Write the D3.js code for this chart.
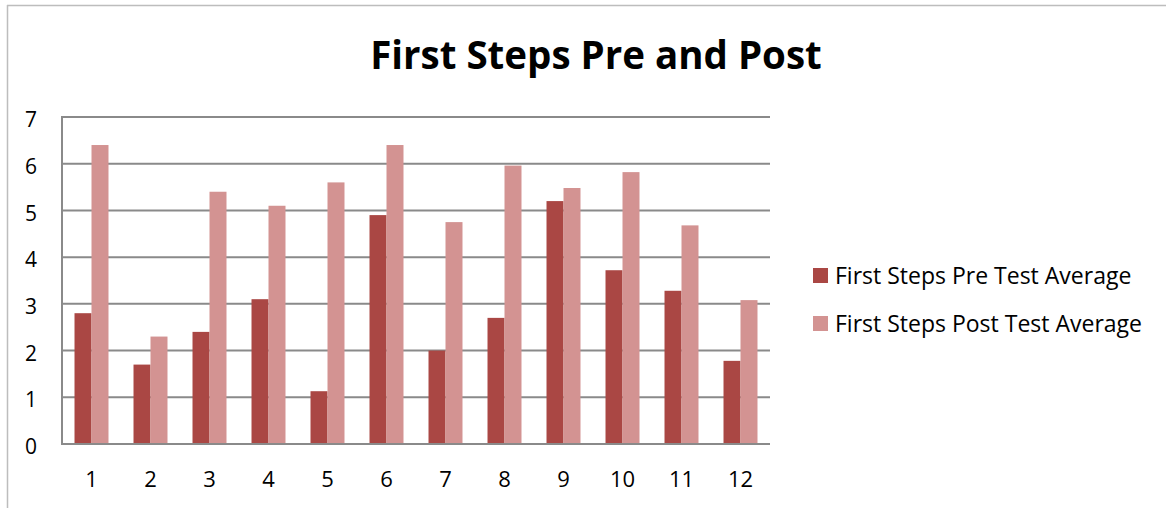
<!DOCTYPE html>
<html>
<head>
<meta charset="utf-8">
<script src="https://cdn.jsdelivr.net/npm/d3@7"></script>
<style>
  html, body { margin: 0; padding: 0; background: #fff; }
  svg { display: block; font-family: "Open Sans", "Noto Sans", sans-serif; }
</style>
</head>
<body>
<svg id="chart" width="1166" height="508"></svg>
<script>
// Survey averages per item, before and after the First Steps programme
const categories = ["1", "2", "3", "4", "5", "6", "7", "8", "9", "10", "11", "12"];
const preTest  = [2.8, 1.7, 2.4, 3.1, 1.13, 4.9, 2.0, 2.7, 5.2, 3.72, 3.28, 1.78];
const postTest = [6.4, 2.3, 5.4, 5.1, 5.6, 6.4, 4.75, 5.96, 5.48, 5.82, 4.68, 3.08];
const seriesNames = ["First Steps Pre Test Average", "First Steps Post Test Average"];
const yTicks = [0, 1, 2, 3, 4, 5, 6, 7];
const chartTitle = "First Steps Pre and Post";

const colors = ["#AA4744", "#D39392"];
const svg = d3.select("#chart");

// outer frame (top and left edges visible)
svg.append("line").attr("x1", 7).attr("x2", 1166).attr("y1", 5.5).attr("y2", 5.5)
  .attr("stroke", "#BDBDBD").attr("stroke-width", 1.5);
svg.append("line").attr("x1", 7.5).attr("x2", 7.5).attr("y1", 5).attr("y2", 508)
  .attr("stroke", "#BDBDBD").attr("stroke-width", 1.5);

const plot = { left: 62, right: 770, top: 117, bottom: 444 };

const x = d3.scaleBand().domain(categories).range([plot.left, plot.right]).paddingInner(0).paddingOuter(0);
const inner = d3.scaleBand().domain([0, 1]).range([x.bandwidth() * 0.212, x.bandwidth() * 0.788]);
const y = d3.scaleLinear().domain([0, 7]).range([plot.bottom, plot.top]);

// horizontal gridlines
svg.append("g").selectAll("line").data(yTicks.filter(t => t > 0)).join("line")
  .attr("x1", plot.left).attr("x2", plot.right)
  .attr("y1", d => y(d)).attr("y2", d => y(d))
  .attr("stroke", "#8A8A8A").attr("stroke-width", 2);

// bars
const groups = svg.append("g").selectAll("g").data(categories).join("g")
  .attr("transform", d => `translate(${x(d)},0)`);
groups.selectAll("rect")
  .data((d, i) => [preTest[i], postTest[i]])
  .join("rect")
  .attr("x", (d, j) => inner(j))
  .attr("width", inner.bandwidth())
  .attr("y", d => y(d))
  .attr("height", d => y(0) - y(d))
  .attr("fill", (d, j) => colors[j]);

// axis lines
svg.append("line").attr("x1", plot.left).attr("x2", plot.right)
  .attr("y1", plot.bottom).attr("y2", plot.bottom)
  .attr("stroke", "#8A8A8A").attr("stroke-width", 2);
svg.append("line").attr("x1", plot.left).attr("x2", plot.left)
  .attr("y1", plot.top - 1).attr("y2", plot.bottom + 1)
  .attr("stroke", "#8A8A8A").attr("stroke-width", 2);

// y axis labels
const yAxis = d3.axisLeft(y).tickValues(yTicks).tickSize(0).tickPadding(0).tickFormat(d3.format("d"));
const yg = svg.append("g").attr("transform", `translate(37,0)`).call(yAxis);
yg.select(".domain").remove();
yg.selectAll("text").attr("font-size", 21).attr("fill", "#000")
  .attr("font-family", "'Open Sans', sans-serif").attr("dy", "0.46em");

// x axis labels
const xAxis = d3.axisBottom(x).tickSize(0).tickPadding(0);
const xg = svg.append("g").attr("transform", `translate(0,${plot.bottom})`).call(xAxis);
xg.select(".domain").remove();
xg.selectAll("text").attr("font-size", 22).attr("fill", "#000")
  .attr("font-family", "'Open Sans', sans-serif").attr("dy", null).attr("y", 43);

// title
svg.append("text").attr("x", 596).attr("y", 69).attr("text-anchor", "middle")
  .attr("font-size", 38.5).attr("font-weight", "bold").attr("fill", "#000")
  .text(chartTitle);

// legend
const legend = svg.append("g").selectAll("g").data(seriesNames).join("g")
  .attr("transform", (d, i) => `translate(813,${268 + i * 48})`);
legend.append("rect").attr("width", 15).attr("height", 15).attr("fill", (d, i) => colors[i]);
legend.append("text").attr("x", 22).attr("y", 16).attr("font-size", 23).attr("fill", "#000").text(d => d);
</script>
</body>
</html>
